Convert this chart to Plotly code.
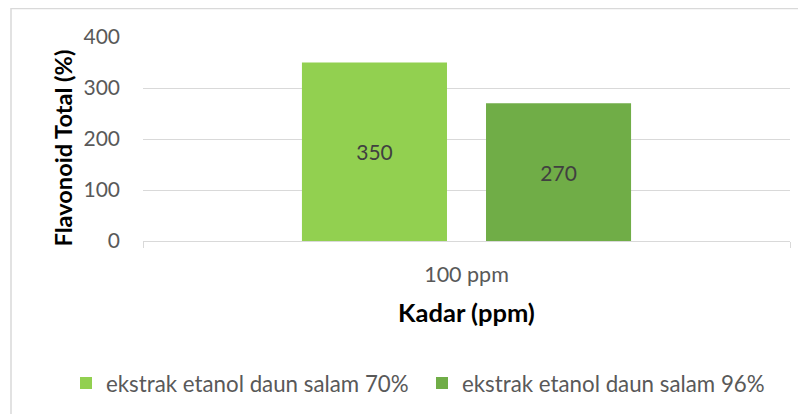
import plotly.graph_objects as go

categories = ["100 ppm"]
series_names = ["ekstrak etanol daun salam 70%", "ekstrak etanol daun salam 96%"]
values_70 = [350]
values_96 = [270]
colors = ["#92D050", "#70AD47"]

# the page body has an 8px margin, so figure is laid out in page coords minus 8
OFF = 8
W, H = 806 - OFF, 414 - OFF
L, R, T, B = 143 - OFF, 806 - 790, 37 - OFF, 414 - 241
pw, ph = W - L - R, H - T - B

def px_x(x):
    return (x - OFF - L) / pw

def px_y(y):
    return 1 - (y - OFF - T) / ph

fig = go.Figure()
legend_ids = ["legend", "legend2"]
for name, vals, c, lg in zip(series_names, [values_70, values_96], colors, legend_ids):
    fig.add_trace(go.Bar(
        x=categories, y=vals, name=name, marker=dict(color=c, line=dict(width=0)),
        text=[str(v) for v in vals], textposition="inside", insidetextanchor="middle",
        textfont=dict(family="Lato", size=21, color="#404040"),
        legend=lg,
    ))

legend_font = dict(family="Lato", size=22.3, color="#595959")
fig.update_layout(
    width=W, height=H,
    margin=dict(l=L, r=R, t=T, b=B, autoexpand=False),
    paper_bgcolor="white", plot_bgcolor="white",
    barmode="group", bargap=0.431, bargroupgap=0.212,
    font=dict(family="Lato", color="#595959"),
    showlegend=True,
    legend=dict(orientation="h", x=px_x(66), xanchor="left",
                y=px_y(383), yanchor="middle", font=legend_font,
                itemwidth=30, bgcolor="rgba(0,0,0,0)"),
    legend2=dict(orientation="h", x=px_x(422), xanchor="left",
                 y=px_y(383), yanchor="middle", font=legend_font,
                 itemwidth=30, bgcolor="rgba(0,0,0,0)"),
    shapes=[dict(type="rect", xref="paper", yref="paper",
                 x0=px_x(11), x1=px_x(820), y0=px_y(8.5), y1=px_y(430),
                 line=dict(color="#D9D9D9", width=1.5), layer="below")],
    annotations=[dict(text="<b>Flavonoid Total (%)</b>", textangle=-90,
                      xref="paper", yref="paper", x=px_x(62), y=px_y(148.5),
                      xanchor="center", yanchor="middle", showarrow=False,
                      font=dict(family="Lato", size=23.6, color="#000000"))],
)

fig.update_yaxes(
    range=[0, 400], tickvals=[0, 100, 200, 300, 400],
    showgrid=True, gridcolor="#D9D9D9", gridwidth=1.3,
    zeroline=False, showline=False, ticks="",
    tickfont=dict(family="Lato", size=21, color="#595959"),
    ticklabelstandoff=22,
)
fig.update_xaxes(
    showline=True, linecolor="#D9D9D9", linewidth=1.3,
    ticks="outside", tickson="boundaries", ticklen=6, tickcolor="#D9D9D9", tickwidth=1.3,
    tickfont=dict(family="Lato", size=21.5, color="#595959"),
    ticklabelstandoff=14,
    title=dict(text="<b>Kadar (ppm)</b>", standoff=18,
               font=dict(family="Lato", size=25.5, color="#000000")),
)

fig.write_html("out.html")
